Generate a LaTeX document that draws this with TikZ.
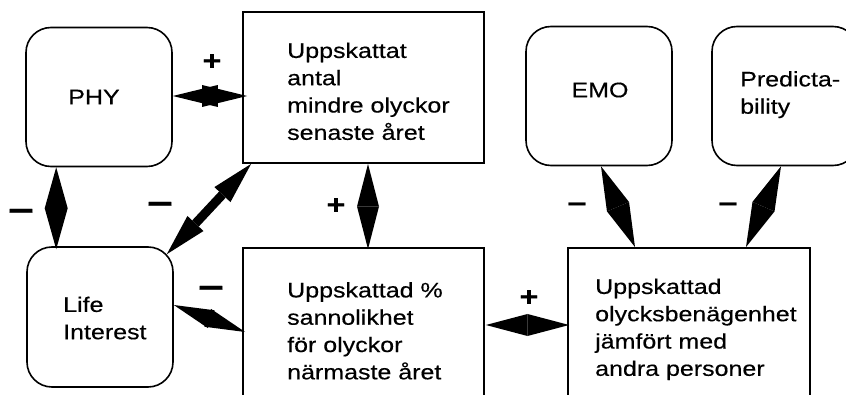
\documentclass[tikz,border=0pt]{standalone}
\usepackage{fontspec}
\setmainfont[FakeStretch=1.19,FakeBold=0.4]{Liberation Sans}
\usetikzlibrary{calc}
% double-headed arrow: two triangular heads of length #3 (factor or distance), half-width #4, shaft half-width #5
\newcommand\dblArrow[5]{%
  \fill (#1) -- ($(#1)!#3!(#2)!#4!90:(#2)$) -- ($(#1)!#3!(#2)!#4!-90:(#2)$) -- cycle;
  \fill (#2) -- ($(#2)!#3!(#1)!#4!90:(#1)$) -- ($(#2)!#3!(#1)!#4!-90:(#1)$) -- cycle;
  \fill ($(#1)!#3!(#2)!#5!90:(#2)$) -- ($(#2)!#3!(#1)!#5!-90:(#1)$) -- ($(#2)!#3!(#1)!#5!90:(#1)$) -- ($(#1)!#3!(#2)!#5!-90:(#2)$) -- cycle;}
\begin{document}
\begin{tikzpicture}[x=1pt,y=-1pt,
  rbox/.style={draw,rounded corners=25pt,line width=1.6pt,minimum width=146pt,minimum height=139pt,inner sep=0pt},
  sbox/.style={draw,line width=1.8pt,minimum width=241pt,minimum height=151pt,inner sep=0pt},
  txt/.style={font=\fontsize{21}{27.3}\selectfont,align=left,inner sep=0pt,anchor=north west},
  ctxt/.style={font=\fontsize{21}{27}\selectfont,inner sep=0pt},
  sgn/.style={font=\bfseries\fontsize{27}{30}\selectfont,inner sep=0pt},
  dsh/.style={font=\bfseries\fontsize{38}{40}\selectfont,inner sep=0pt},
  dshs/.style={font=\bfseries\fontsize{28}{30}\selectfont,inner sep=0pt}]
\clip (0,0) rectangle (846,395);
% boxes
\node[rbox] (phy) at (99,97) {};
\node[sbox] (antal) at (363.5,87.5) {};
\node[rbox] (emo) at (599,96) {};
\node[rbox] (pred) at (785,96) {};
\node[rbox,minimum height=140pt] (life) at (100,317) {};
\node[sbox] (sann) at (363.5,323.5) {};
\node[sbox,minimum width=242pt] (olycks) at (689,323.5) {};
% texts
\node[ctxt] (phyt) at (94,97) {PHY};
\node[ctxt] (emot) at (600,90) {EMO};
\node[txt] (antalt) at (287,42.5) {Uppskattat\\antal\\mindre olyckor\\senaste året};
\node[txt] (sannt) at (287,282) {Uppskattad \%\\sannolikhet\\för olyckor\\närmaste året};
\node[txt] (olyckst) at (595,278.5) {Uppskattad\\olycksbenägenhet\\jämfört med\\andra personer};
\node[txt] (lifet) at (63,296.5) {Life\\Interest};
\node[txt] (predt) at (740,71) {Predicta-\\bility};
% signs
\node[sgn] (p1) at (212,62) {+};
\node[dsh] (m1) at (21,215) {–};
\node[dsh] (m2) at (160,208) {–};
\node[sgn] (p2) at (336,206) {+};
\node[dsh] (m3) at (211,292) {–};
\node[sgn] (p3) at (529,298) {+};
\node[dshs] (m4) at (577,207) {–};
\node[dshs] (m5) at (728,207) {–};
% connector end points
\coordinate (c1) at ($(phy.south west)+(31,0)$);
\coordinate (c2) at ($(c1 |- life.north)+(0,3)$);
\coordinate (c3) at ($(antal.south west)+(9,0)$);
\coordinate (c4) at ($(life.north east)+(-7,8)$);
\coordinate (c5) at ($(life.east)+(0,-12)$);
\coordinate (c6) at ($(sann.west)+(3,8.5)$);
\coordinate (c7) at ($(antal.south)+(4.5,0)$);
\coordinate (c8) at ($(c7 |- sann.north)+(0,2)$);
\coordinate (c9) at ($(sann.east)+(1,1.5)$);
\coordinate (c10) at ($(c9 -| olycks.west)+(2,0)$);
\coordinate (c11) at ($(emo.south)+(2,0)$);
\coordinate (c12) at ($(olycks.north)+(-54,0)$);
\coordinate (c13) at ($(pred.south)+(-4,0)$);
\coordinate (c14) at ($(olycks.north)+(57,0)$);
\coordinate (c15) at ($(phy.east -| antal.west)+(5,-1)$);
\coordinate (c16) at ($(phy.east)+(0,-1)$);
% connectors
\dblArrow{c16}{c15}{45pt}{11pt}{0pt}
\dblArrow{c1}{c2}{0.5}{11.5pt}{0pt}
\dblArrow{c3}{c4}{42pt}{11pt}{4.5pt}
\dblArrow{c5}{c6}{40pt}{9.5pt}{5pt}
\dblArrow{c7}{c8}{0.5}{11pt}{0pt}
\dblArrow{c9}{c10}{0.5}{11pt}{0pt}
\dblArrow{c11}{c12}{0.5}{12pt}{0pt}
\dblArrow{c13}{c14}{0.5}{12pt}{0pt}
\end{tikzpicture}
\end{document}
